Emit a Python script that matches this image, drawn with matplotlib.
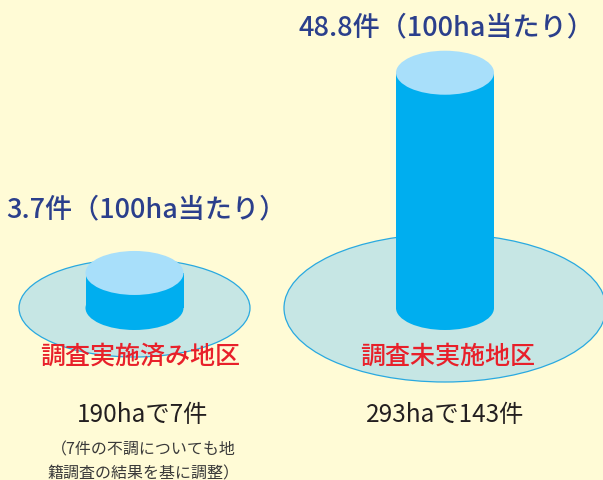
import matplotlib.pyplot as plt
from matplotlib.patches import Ellipse, Rectangle

plt.rcParams['font.family'] = ['Noto Sans CJK JP', 'DejaVu Sans']

# data
categories = ['調査実施済み地区', '調査未実施地区']
per_100ha = [3.7, 48.8]
area_ha = [190, 293]
cases = [7, 143]
note_lines = ['（7件の不調についても地', '籍調査の結果を基に調整）']

# layout (pixel coords, y down)
cx = [134.5, 445]
base_y = 309
area_w = [231, 322]
area_h = [98, 148]
cyl_w = 98
cyl_rh = 22            # half height of the cylinder ellipses
base_h = 18.6          # cylinder drawn as base + scale * value
scale = 4.44
title_x = [146, 446]
title_gap = [42, 24]

bg = '#fffbd6'
body = '#00aeef'
top = '#a8dffa'
area_fill = '#c6e6e4'
area_edge = '#29a9e0'

fig = plt.figure(figsize=(6.03, 4.81), dpi=100, facecolor=bg)
ax = fig.add_axes([0, 0, 1, 1])
ax.set_xlim(0, 603)
ax.set_ylim(481, 0)
ax.set_facecolor(bg)
ax.axis('off')

for i in range(2):
    x = cx[i]
    h = base_h + scale * per_100ha[i]
    top_y = base_y - h
    ax.add_patch(Ellipse((x, base_y), area_w[i], area_h[i], fc=area_fill, ec=area_edge, lw=0.9))
    ax.add_patch(Ellipse((x, base_y), cyl_w, 2 * cyl_rh, fc=body, ec='none'))
    ax.add_patch(Rectangle((x - cyl_w / 2, top_y), cyl_w, h, fc=body, ec='none'))
    ax.add_patch(Ellipse((x, top_y), cyl_w, 2 * cyl_rh, fc=top, ec='none'))

    ax.text(title_x[i], top_y - cyl_rh - title_gap[i],
            f'{per_100ha[i]}件（100ha当たり）',
            ha='center', va='center', fontsize=19.5, color='#2b3f8c', fontweight='medium')
    ax.text(x + 6 if i == 0 else x + 3, 357, categories[i], ha='center', va='center',
            fontsize=18, color='#e8202a', fontweight='medium')
    ax.text(x + 8 if i == 0 else x, 415, f'{area_ha[i]}haで{cases[i]}件',
            ha='center', va='center', fontsize=17.5, color='#231f20')

for j, line in enumerate(note_lines):
    ax.text(143, 450 + 24 * j, line, ha='center', va='center', fontsize=11.5, color='#3a3a3a')

plt.savefig('out.png', dpi=100, facecolor=bg)
plt.close()
